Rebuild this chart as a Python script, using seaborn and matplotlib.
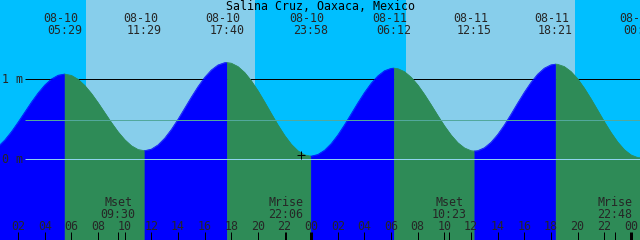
import matplotlib
matplotlib.use("Agg")
import matplotlib.pyplot as plt
import matplotlib.transforms as mtransforms
import seaborn as sns
import pandas as pd

# ---------------- data ----------------
title = "Salina Cruz, Oaxaca, Mexico"

# tide extremes, hours since 08-10 00:00
extreme_hours = [-0.62, 5.483, 11.483, 17.667, 23.967, 30.2, 36.25, 42.35, 48.717]
extreme_heights = [0.08, 1.066, 0.108, 1.21, 0.04, 1.14, 0.104, 1.19, 0.02]
extreme_dates = ["", "08-10", "08-10", "08-10", "08-10", "08-11", "08-11", "08-11", "08-12"]
extreme_times = ["", "05:29", "11:29", "17:40", "23:58", "06:12", "12:15", "18:21", "00:43"]

# tide height read every half hour from 00:00 on 08-10 (m)
sample_hours = [i / 2 for i in range(98)]
sample_heights = [
    0.105, 0.160, 0.242, 0.346, 0.465, 0.590, 0.715, 0.830, 0.929, 1.004,
    1.051, 1.066, 1.049, 1.000, 0.923, 0.823, 0.707, 0.583, 0.459, 0.344,
    0.246, 0.170, 0.123, 0.108, 0.127, 0.180, 0.264, 0.373, 0.500, 0.638,
    0.777, 0.908, 1.024, 1.116, 1.179, 1.208, 1.202, 1.160, 1.086, 0.982,
    0.857, 0.717, 0.572, 0.430, 0.300, 0.189, 0.107, 0.056, 0.040, 0.060,
    0.113, 0.196, 0.304, 0.431, 0.567, 0.705, 0.835, 0.950, 1.042, 1.107,
    1.137, 1.134, 1.096, 1.026, 0.930, 0.812, 0.682, 0.548, 0.419, 0.304,
    0.209, 0.143, 0.108, 0.108, 0.144, 0.213, 0.310, 0.429, 0.563, 0.703,
    0.838, 0.961, 1.064, 1.139, 1.181, 1.188, 1.160, 1.098, 1.007, 0.890,
    0.757, 0.615, 0.471, 0.337, 0.218, 0.122, 0.056, 0.023]

# daylight intervals (hours)
sunrise_hours = [7.095, 31.12]
sunset_hours = [19.78, 43.81]

# moon events
moon_hours = [9.5, 22.1, 34.383, 46.8]
moon_names = ["Mset", "Mrise", "Mset", "Mrise"]
moon_times = ["09:30", "22:06", "10:23", "22:48"]

# hour axis
tick_hours = list(range(2, 49, 2))
tick_labels = ["%02d" % (h % 24) for h in tick_hours]
midnight_hours = [24, 48]

mean_level = 0.488
now_hour, now_height = 23.24, 0.06

# ---------------- layout ----------------
W, H = 640, 240
PXH = 13.32
XOFF = 8.5
def t_of(px):
    return (px + XOFF) / PXH
def yf(px):
    return 1 - px / H
Y0M, PX_PER_M = 159.3, 80.0
ylo = (Y0M - H) / PX_PER_M
yhi = Y0M / PX_PER_M

night = "#00BFFF"
day = "#87CEEB"
rise_c = "#0000FF"
fall_c = "#2E8B57"
msl_c = "#52A89C"
datum_c = "#8FD3EE"
px = 0.72

sns.set_theme(style="white")
plt.rcParams["font.family"] = ["DejaVu Sans Mono", "DejaVu Sans"]
fs = 8.4

fig = plt.figure(figsize=(6.4, 2.4), dpi=100)
ax = fig.add_axes([0, 0, 1, 1])
fig.patch.set_facecolor(night)
ax.axvspan(-5, 60, color=night, zorder=0, lw=0)
for sr, ss in zip(sunrise_hours, sunset_hours):
    ax.axvspan(sr, ss, color=day, zorder=0.5, lw=0)

# 1 m line behind the tide
ax.hlines(1.0, t_of(25), t_of(W), color="black", lw=px, zorder=1)

# tide curve
pts = pd.DataFrame({"hour": sample_hours + extreme_hours,
                    "height": sample_heights + extreme_heights})
pts = pts.sort_values("hour").reset_index(drop=True)
for i in range(len(extreme_hours) - 1):
    a, b = extreme_hours[i], extreme_hours[i + 1]
    seg = pts[(pts["hour"] >= a - 1e-9) & (pts["hour"] <= b + 1e-9)]
    c = rise_c if extreme_heights[i + 1] > extreme_heights[i] else fall_c
    ax.fill_between(seg["hour"], seg["height"], ylo, color=c, lw=0.4,
                    edgecolor=c, zorder=2)
    sns.lineplot(data=seg, x="hour", y="height", color=c, lw=0.5,
                 ax=ax, zorder=2.1, legend=False, sort=True,
                 estimator=None)

ax.set_xlim(t_of(0), t_of(W))
ax.set_ylim(ylo, yhi)
ax.set_axis_off()

# mean / datum lines over the tide
ax.hlines(mean_level, t_of(25), t_of(W), color=msl_c, lw=px, zorder=3)
ax.hlines(0.0, t_of(25), t_of(W), color=datum_c, lw=px, zorder=3)

# now marker
ax.plot([now_hour], [now_height], marker="+", color="black", ms=6,
        mew=px, zorder=5)

trans = mtransforms.blended_transform_factory(ax.transData, ax.transAxes)

# texts
fig.text(0.5, yf(10), title, ha="center", va="baseline", fontsize=fs, color="black")
for h, d, t in zip(extreme_hours, extreme_dates, extreme_times):
    if not t:
        continue
    ax.text(h - 4 / PXH, yf(22), d, ha="center", va="baseline", fontsize=fs,
            transform=trans, zorder=6)
    ax.text(h, yf(34), t, ha="center", va="baseline", fontsize=fs,
            transform=trans, zorder=6)

ax.text(2 / W, yf(83), "1 m", ha="left", va="baseline", fontsize=fs,
        transform=ax.transAxes, zorder=6)
ax.text(2 / W, yf(163), "0 m", ha="left", va="baseline", fontsize=fs,
        transform=ax.transAxes, zorder=6)

for h, n, t in zip(moon_hours, moon_names, moon_times):
    ax.text(h, yf(206), n, ha="center", va="baseline", fontsize=fs,
            transform=trans, zorder=6)
    ax.text(h, yf(218), t, ha="center", va="baseline", fontsize=fs,
            transform=trans, zorder=6)
    ax.vlines(h, 0, 8.5 / H, color="black", lw=px, transform=trans, zorder=6)

for h, lab in zip(tick_hours, tick_labels):
    ax.text(h, yf(230), lab, ha="center", va="baseline", fontsize=fs,
            transform=trans, zorder=6)
    lw = 3 * px if h in midnight_hours else px
    ax.vlines(h, 0, 8.5 / H, color="black", lw=lw, transform=trans, zorder=6)

fig.savefig("out.png", dpi=100, facecolor=fig.get_facecolor())
